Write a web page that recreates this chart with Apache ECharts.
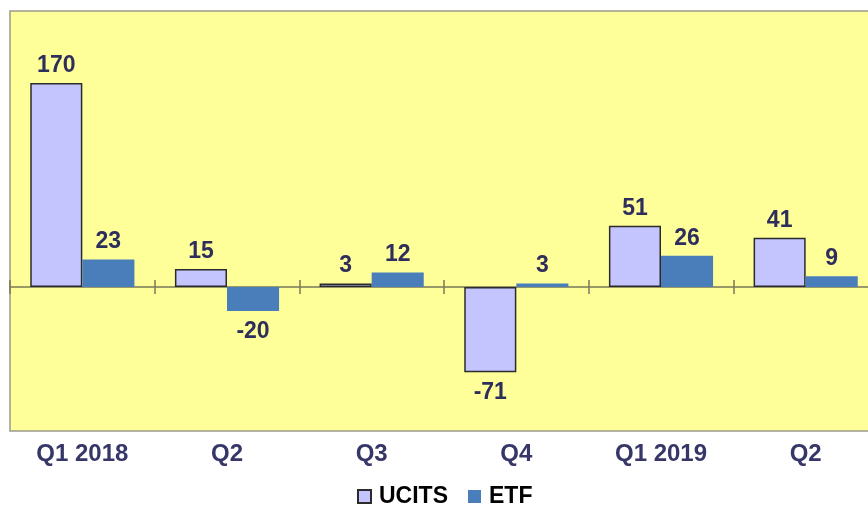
<!DOCTYPE html>
<html>
<head>
<meta charset="utf-8">
<script src="https://cdn.jsdelivr.net/npm/echarts@6/dist/echarts.min.js"></script>
<style>html,body{margin:0;padding:0;background:#fff}#c{width:868px;height:506px}</style>
</head>
<body>
<div id="c"></div>
<script>
const categories = ['Q1 2018', 'Q2', 'Q3', 'Q4', 'Q1 2019', 'Q2'];
const ucits = [170, 15, 3, -71, 51, 41];
const etf = [23, -20, 12, 3, 26, 9];

const FONT = '"Liberation Sans", Arial, sans-serif';
function labelled(vals) {
  return vals.map(v => ({ value: v, label: v < 0 ? { position: 'bottom', distance: 9 } : { position: 'top', distance: 6 } }));
}
const chart = echarts.init(document.getElementById('c'));
chart.setOption({
  animation: false,
  grid: {
    left: 10, top: 11, width: 868, height: 420,
    outerBoundsMode: 'none', containLabel: false,
    show: true, backgroundColor: '#FFFF99', borderColor: '#9a9a8a', borderWidth: 1.5
  },
  legend: {
    left: 357, top: 485, padding: 0, itemGap: 20, itemWidth: 13, itemHeight: 13,
    icon: 'rect',
    textStyle: { fontFamily: FONT, fontWeight: 'bold', fontSize: 23, color: '#000', padding: [0, 0, 0, 3] },
    data: ['UCITS', 'ETF']
  },
  xAxis: [
    {
      type: 'category', data: categories, position: 'bottom',
      axisLine: { show: false, onZero: false }, axisTick: { show: false },
      axisLabel: { margin: 11, fontFamily: FONT, fontWeight: 'bold', fontSize: 24, color: '#363668' }
    },
    {
      type: 'category', data: categories, position: 'bottom',
      axisLine: { show: true, onZero: true, onZeroAxisIndex: 0, lineStyle: { color: '#7a7a5a', width: 1.5 } },
      axisTick: { show: true, inside: true, length: 7, lineStyle: { color: '#7a7a5a', width: 1.5 } },
      axisLabel: { show: false }
    },
    {
      type: 'category', data: categories, position: 'bottom',
      axisLine: { show: false, onZero: true, onZeroAxisIndex: 0 },
      axisTick: { show: true, inside: false, length: 7, lineStyle: { color: '#7a7a5a', width: 1.5 } },
      axisLabel: { show: false }
    }
  ],
  yAxis: {
    type: 'value', min: -120, max: 230, show: false, splitLine: { show: false }
  },
  series: [
    {
      name: 'UCITS', type: 'bar', xAxisIndex: 0, data: labelled(ucits),
      barGap: '0%', barCategoryGap: '28%',
      itemStyle: { color: '#C4C4FF', borderColor: '#2b2b2b', borderWidth: 1.5 },
      label: { show: true, fontFamily: FONT, fontWeight: 'bold', fontSize: 23, color: '#2E2E5C' }
    },
    {
      name: 'ETF', type: 'bar', xAxisIndex: 0, data: labelled(etf),
      barGap: '0%', barCategoryGap: '28%',
      itemStyle: { color: '#4A7EBB' },
      label: { show: true, fontFamily: FONT, fontWeight: 'bold', fontSize: 23, color: '#2E2E5C' }
    }
  ]
});
</script>
</body>
</html>
